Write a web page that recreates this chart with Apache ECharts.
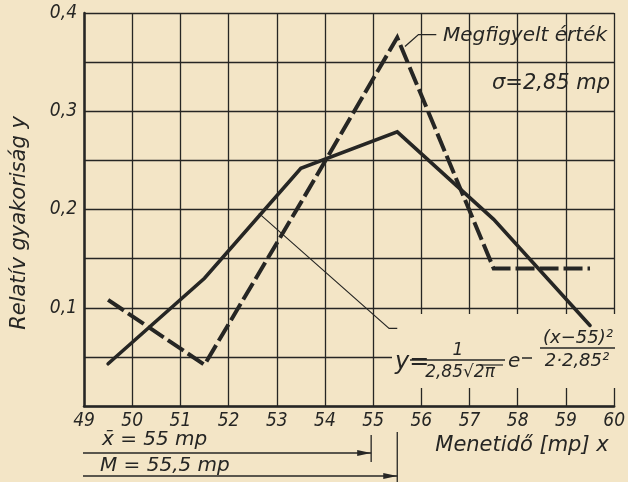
<!DOCTYPE html>
<html>
<head>
<meta charset="utf-8">
<title>Relatív gyakoriság</title>
<script src="https://cdn.jsdelivr.net/npm/echarts@6/dist/echarts.min.js"></script>
<style>
  html, body { margin: 0; padding: 0; background: #f3e5c6; }
  #container { width: 628px; height: 482px; }
</style>
</head>
<body>
<div id="container"></div>
<script>
// class midpoints (mp) and relative frequencies
var xMid = [49.5, 51.5, 53.5, 55.5, 57.5, 59.5];
var observed = [0.108, 0.042, 0.207, 0.375, 0.14, 0.14];   // Megfigyelt érték (dashed)
var normal = [0.043, 0.13, 0.242, 0.279, 0.19, 0.082];      // normal curve (solid)
var xTickLabels = ['49', '50', '51', '52', '53', '54', '55', '56', '57', '58', '59', '60'];
var yTickLabels = ['0,1', '0,2', '0,3', '0,4'];
var meanX = 55, medianX = 55.5;

var ink = '#262624';
var paper = '#f3e5c6';
var FONT = "'DejaVu Sans Condensed', 'DejaVu Sans', sans-serif";
var FONT_W = "'DejaVu Sans', sans-serif";

var dom = document.getElementById('container');
var chart = echarts.init(dom);

function pairs(xs, ys) {
  return xs.map(function (x, i) { return [x, ys[i]]; });
}

var option = {
  animation: false,
  backgroundColor: paper,
  grid: { left: 84, right: 4, top: 13, bottom: 76, show: false },
  xAxis: {
    type: 'value', min: 49, max: 60, interval: 1,
    axisLine: { lineStyle: { color: ink, width: 2.5 } },
    axisTick: { show: false },
    axisLabel: {
      margin: 6, color: ink, fontSize: 19, fontStyle: 'italic', fontFamily: FONT,
      formatter: function (v) { return xTickLabels[Math.round(v - 49)]; }
    },
    splitLine: { show: true, lineStyle: { color: ink, width: 1.3 } }
  },
  yAxis: {
    type: 'value', min: 0, max: 0.4, interval: 0.05,
    axisLine: { show: true, lineStyle: { color: ink, width: 2.5 } },
    axisTick: { show: false },
    axisLabel: {
      margin: 7, color: ink, fontSize: 19, fontStyle: 'italic', fontFamily: FONT,
      formatter: function (v) {
        var k = Math.round(v * 20);
        if (k === 0 || k % 2 === 1) return '';
        return yTickLabels[k / 2 - 1];
      }
    },
    splitLine: { show: true, lineStyle: { color: ink, width: 1.3 } }
  },
  series: [
    {
      name: 'Megfigyelt érték', type: 'line', data: pairs(xMid, observed),
      symbol: 'none', z: 4,
      lineStyle: { color: ink, width: 4, type: [19, 5], cap: 'butt', join: 'miter' }
    },
    {
      name: 'Normális eloszlás', type: 'line', data: pairs(xMid, normal),
      symbol: 'none', z: 4,
      lineStyle: { color: ink, width: 3.6, cap: 'round', join: 'miter' }
    },
    {
      // leader from the formula to the solid curve
      type: 'lines', coordinateSystem: 'cartesian2d', polyline: true, silent: true, z: 5,
      symbol: ['arrow', 'none'], symbolSize: 10,
      lineStyle: { color: ink, width: 1.1, opacity: 1 },
      data: [{ coords: [[52.63, 0.196], [55.33, 0.079], [55.5, 0.079]] }]
    },
    {
      // leader from the label to the dashed curve
      type: 'lines', coordinateSystem: 'cartesian2d', polyline: true, silent: true, z: 5,
      symbol: ['none', 'arrow'], symbolSize: 11,
      lineStyle: { color: ink, width: 1.3, opacity: 1 },
      data: [{ coords: [[56.31, 0.378], [55.94, 0.378], [55.66, 0.366]] }]
    }
  ]
};
chart.setOption(option);

function px(x, y) { return chart.convertToPixel({ gridIndex: 0 }, [x, y]); }
function txt(x, y, s, size, align, extra) {
  var el = {
    type: 'text', x: x, y: y, z: 20, silent: true,
    style: {
      text: s, fill: ink, align: align || 'left', verticalAlign: 'middle',
      font: 'italic ' + size + 'px ' + FONT_W
    }
  };
  if (extra) for (var k in extra) el[k] = extra[k];
  return el;
}
function seg(x1, y1, x2, y2, w) {
  return { type: 'line', z: 20, silent: true, shape: { x1: x1, y1: y1, x2: x2, y2: y2 },
           style: { stroke: ink, lineWidth: w || 1.3 } };
}
function arrowHead(xTip, y) {
  return { type: 'polygon', z: 21, silent: true,
           shape: { points: [[xTip, y], [xTip - 14, y - 3], [xTip - 14, y + 3]] },
           style: { fill: ink } };
}

var pMean = px(meanX, 0)[0];
var pMed = px(medianX, 0)[0];
var left = px(49, 0)[0];

var g = [];
// axis titles
g.push(txt(20, 223, 'Relatív gyakoriság y', 21, 'center', { rotation: Math.PI / 2 }));
g.push(txt(522, 446, 'Menetidő [mp] x', 21, 'center'));
// label of the observed line and sigma
g.push(txt(443, 36, 'Megfigyelt érték', 20, 'left'));
g.push(txt(492, 84, 'σ=2,85 mp', 21, 'left'));

// formula box
g.push({ type: 'rect', z: 3, silent: true, shape: { x: 392, y: 314, width: 226, height: 74 },
         style: { fill: paper } });
g.push(txt(395, 363, 'y=', 24, 'left'));
g.push(txt(458, 351, '1', 17, 'center'));
g.push(seg(410, 360, 505, 360, 1.4));
g.push(txt(460, 373, '2,85√2π', 17, 'center'));
g.push(seg(480, 365, 503, 365, 1.2));
g.push(txt(508, 362, 'e', 20, 'left'));
g.push(seg(522, 358, 532, 358, 1.5));
g.push(txt(578, 338, '(x−55)²', 18, 'center'));
g.push(seg(540, 348, 615, 348, 1.4));
g.push(txt(577, 361, '2·2,85²', 18, 'center'));

// mean and median markers below the axis
g.push(txt(102, 440, 'x̄ = 55 mp', 20, 'left'));
g.push(seg(left - 1, 453, pMean - 2, 453, 1.4));
g.push(arrowHead(pMean - 2, 453));
g.push(seg(pMean - 2, 435, pMean - 2, 462, 1.3));
g.push(txt(100, 466, 'M = 55,5 mp', 20, 'left'));
g.push(seg(left - 1, 476, pMed, 476, 1.4));
g.push(arrowHead(pMed, 476));
g.push(seg(pMed, 432, pMed, 482, 1.3));

chart.setOption({ graphic: { elements: g } });
</script>
</body>
</html>
